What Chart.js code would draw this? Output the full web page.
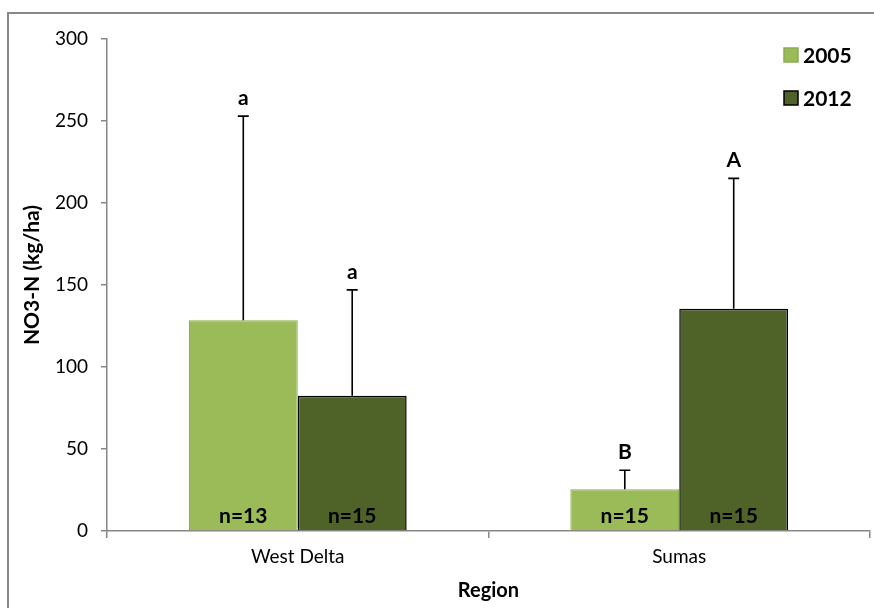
<!DOCTYPE html>
<html>
<head>
<meta charset="utf-8">
<script src="https://cdn.jsdelivr.net/npm/chart.js@4.4.1/dist/chart.umd.min.js"></script>
<style>
  html, body { margin: 0; padding: 0; background: #fff; }
  canvas { display: block; }
</style>
</head>
<body>
<canvas id="c" width="874" height="608"></canvas>
<script>
// Soil nitrate (NO3-N) by region, 2005 vs 2012
const regions = ['West Delta', 'Sumas'];
const years = ['2005', '2012'];
const mean2005 = [128.5, 25.5];
const mean2012 = [82.5, 135.5];
const sd2005 = [124.5, 11.5];
const sd2012 = [64.5, 79.5];
const letters2005 = ['a', 'B'];
const letters2012 = ['a', 'A'];
const n2005 = [13, 15];
const n2012 = [15, 15];
const yTicks = [0, 50, 100, 150, 200, 250, 300];

const FONT = 'Lato, "Open Sans", sans-serif';
const AXIS_GREY = '#878787';
const colors = {
  fill: ['#9BBB59', '#4F6228'],
  border: ['#8CAD4E', '#000000']
};

const errors = [sd2005, sd2012];
const letters = [letters2005, letters2012];
const counts = [n2005, n2012];

const annotate = {
  id: 'annotate',
  beforeDraw(chart) {
    const ctx = chart.ctx;
    ctx.save();
    ctx.fillStyle = '#fff';
    ctx.fillRect(0, 0, chart.width, chart.height);
    ctx.restore();
  },
  afterDatasetsDraw(chart) {
    const ctx = chart.ctx;
    const y = chart.scales.y;
    ctx.save();
    chart.data.datasets.forEach((ds, i) => {
      const meta = chart.getDatasetMeta(i);
      meta.data.forEach((bar, j) => {
        const v = ds.data[j];
        const top = y.getPixelForValue(v + errors[i][j]);
        const bTop = y.getPixelForValue(v);
        // upper error bar
        ctx.strokeStyle = '#000';
        ctx.lineWidth = 1.6;
        ctx.beginPath();
        ctx.moveTo(bar.x, bTop);
        ctx.lineTo(bar.x, top);
        ctx.moveTo(bar.x - 5.5, top);
        ctx.lineTo(bar.x + 5.5, top);
        ctx.stroke();
        // significance letter
        ctx.fillStyle = '#000';
        ctx.font = 'bold 21px ' + FONT;
        ctx.textAlign = 'center';
        ctx.textBaseline = 'alphabetic';
        ctx.fillText(letters[i][j], bar.x, top - 11);
        // sample size inside bar
        ctx.fillText('n=' + counts[i][j], bar.x, y.getPixelForValue(0) - 8);
      });
    });
    ctx.restore();
  },
  afterDraw(chart) {
    const ctx = chart.ctx;
    const area = chart.chartArea;
    ctx.save();
    // outer frame
    ctx.strokeStyle = AXIS_GREY;
    ctx.lineWidth = 2;
    ctx.beginPath();
    ctx.moveTo(8, chart.height + 2);
    ctx.lineTo(8, 13);
    ctx.lineTo(chart.width + 2, 13);
    ctx.stroke();
    // axis titles
    ctx.fillStyle = '#000';
    ctx.font = 'bold 20px ' + FONT;
    ctx.textAlign = 'center';
    ctx.textBaseline = 'middle';
    ctx.fillText('Region', (area.left + area.right) / 2, 591);
    ctx.save();
    ctx.translate(32, 275);
    ctx.rotate(-Math.PI / 2);
    ctx.font = 'bold 21px ' + FONT;
    ctx.fillText('NO3-N (kg/ha)', 0, 0);
    ctx.restore();
    // legend
    const rows = [55, 98];
    years.forEach((yr, i) => {
      ctx.fillStyle = colors.fill[i];
      ctx.fillRect(784, rows[i] - 7, 14, 14);
      ctx.strokeStyle = colors.border[i];
      ctx.lineWidth = 1.5;
      ctx.strokeRect(784, rows[i] - 7, 14, 14);
      ctx.fillStyle = '#000';
      ctx.font = 'bold 21px ' + FONT;
      ctx.textAlign = 'left';
      ctx.textBaseline = 'middle';
      ctx.fillText(yr, 803, rows[i] + 1);
    });
    ctx.restore();
  }
};

new Chart(document.getElementById('c'), {
  type: 'bar',
  data: {
    labels: regions,
    datasets: [
      { label: years[0], data: mean2005, backgroundColor: colors.fill[0], borderColor: colors.border[0], borderWidth: 1.2 },
      { label: years[1], data: mean2012, backgroundColor: colors.fill[1], borderColor: colors.border[1], borderWidth: 1.5 }
    ]
  },
  options: {
    responsive: false,
    animation: false,
    devicePixelRatio: 1,
    datasets: { bar: { categoryPercentage: 0.571, barPercentage: 1.0 } },
    layout: { padding: { top: 39, right: 4, left: 0, bottom: 0 } },
    plugins: { legend: { display: false }, tooltip: { enabled: false } },
    scales: {
      x: {
        grid: { offset: true, drawOnChartArea: false, tickLength: 7, color: AXIS_GREY, lineWidth: 1.5 },
        border: { color: AXIS_GREY, width: 1.5 },
        ticks: { color: '#000', font: { family: FONT, size: 19 }, padding: 7 },
        afterFit(s) { s.height = 77; }
      },
      y: {
        min: 0, max: 300,
        afterBuildTicks(s) { s.ticks = yTicks.map(v => ({ value: v })); },
        grid: { drawOnChartArea: false, tickLength: 6, color: AXIS_GREY, lineWidth: 1.5 },
        border: { color: AXIS_GREY, width: 1.5 },
        ticks: { color: '#000', font: { family: FONT, size: 19 }, padding: 13 },
        afterFit(s) { s.width = 107; }
      }
    }
  },
  plugins: [annotate]
});
</script>
</body>
</html>
